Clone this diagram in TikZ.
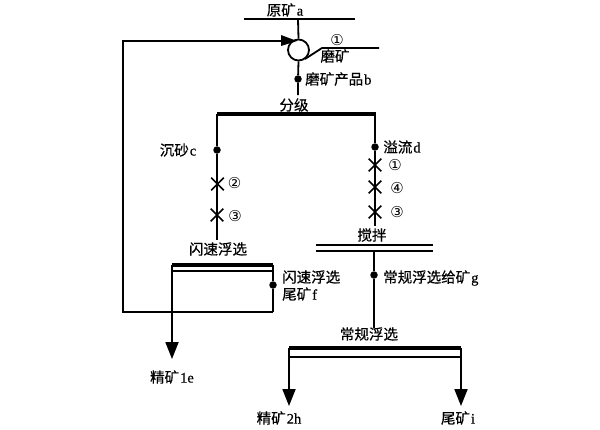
\documentclass[tikz,border=0pt]{standalone}
\usepackage{fontspec}
\setmainfont[FakeBold=0.5]{Liberation Serif}
\newfontfamily\cjk[FakeBold=0.5]{Noto Sans CJK SC}
\newfontfamily\sym{DejaVu Sans}
\newcommand{\zh}[1]{{\cjk\addfontfeature{FakeBold=0.5}#1}\hspace{1pt}}
\usetikzlibrary{arrows.meta,shapes.misc}
\tikzset{
  x=1pt,y=-1pt,
  line/.style={draw=black,line width=1.8pt},
  thinline/.style={draw=black,line width=1.3pt},
  bar/.style={draw=black,line width=4.5pt},
  flow/.style={line,-{Triangle[length=17pt,width=13pt]}},
  txt/.style={inner sep=0pt,font=\fontsize{14.5}{17}\selectfont,text=black},
  num/.style={inner sep=0pt,font=\sym\fontsize{15}{17}\selectfont},
  junction/.style={circle,fill=black,draw=none,minimum size=7.5pt,inner sep=0pt},
  mill/.style={circle,draw=black,line width=1.8pt,fill=white,minimum size=21pt,inner sep=0pt},
  cross/.style={cross out,draw=black,line width=1.6pt,minimum size=11pt,inner sep=0pt}
}
\begin{document}
\begin{tikzpicture}
\useasboundingbox[fill=white] (0,0) rectangle (600,429);
% coordinates
\coordinate (feedL) at (244,19); \coordinate (feedR) at (355,19); \coordinate (feedM) at (298,19);
\coordinate (clsL) at (217,114); \coordinate (clsR) at (376,114); \coordinate (clsM) at (298,114);
\coordinate (ffT) at (172,265); \coordinate (ffTR) at (273,265);
\coordinate (ffM) at (217,263); \coordinate (ffB) at (273,312); \coordinate (ffBL) at (123,312);
\coordinate (ffTL) at (123,41);
\coordinate (ffthinL) at (172,271); \coordinate (ffthinR) at (273,271);
\coordinate (conc1) at (172,359);
\coordinate (mixL1) at (316,245); \coordinate (mixR1) at (433,245);
\coordinate (mixL2) at (316,251); \coordinate (mixR2) at (433,251);
\coordinate (mixIn) at (375,226); \coordinate (mixOut) at (374,251);
\coordinate (cfL) at (289,348); \coordinate (cfR) at (461,348);
\coordinate (cfthinL) at (289,357); \coordinate (cfthinR) at (461,357);
\coordinate (cfIn) at (374,328);
\coordinate (conc2) at (289,406); \coordinate (tail) at (461,406);
\coordinate (millA) at (305,59); \coordinate (millB) at (322,48); \coordinate (millC) at (379,48);
% mill
\node[mill] (mill) at (298.5,50) {};
% dots
\node[junction] (db) at (298,79) {};
\node[junction] (dc) at (217,150) {};
\node[junction] (dd) at (375,147) {};
\node[junction] (df) at (273,285) {};
\node[junction] (dg) at (374,275) {};
% connectors
\draw[thinline] (feedL) -- (feedR);
\draw[line] (feedM) -- (mill.north);
\draw[line] (millA) -- (millB) -- (millC);
\draw[line] (mill.south) -- (db) -- (298,95);
\draw[line] (ffB) -- (ffBL) -- (ffTL) -- (288,41);
\fill (281,35) -- (297,41) -- (281,46) -- cycle;
\draw[bar] (clsL) -- (clsR);
\draw[line] (217,114) -- (dc) -- (217,240);
\draw[line] (375,114) -- (dd) -- (mixIn);
\draw[bar] (ffT) -- (ffTR);
\draw[thinline] (ffthinL) -- (ffthinR);
\draw[line] (ffTR) -- (df) -- (ffB);
\draw[flow] (172,265) -- (conc1);
\draw[thinline] (mixL1) -- (mixR1);
\draw[thinline] (mixL2) -- (mixR2);
\draw[line] (mixOut) -- (dg) -- (cfIn);
\draw[bar] (cfL) -- (cfR);
\draw[thinline] (cfthinL) -- (cfthinR);
\draw[flow] (cfL) -- (conc2);
\draw[flow] (cfR) -- (tail);
% crosses
\node[cross] (x2) at (217.5,184) {};
\node[cross] (x3) at (217,215) {};
\node[cross] (y1) at (375,165) {};
\node[cross] (y4) at (375,187) {};
\node[cross] (y3) at (375,212) {};
% numbers
\node[num] (n1a) at (337,40) {①};
\node[num] (n2) at (234.5,183) {②};
\node[num] (n3) at (235,216) {③};
\node[num] (n1b) at (395,165) {①};
\node[num] (n4) at (397,188) {④};
\node[num] (n3b) at (397,212) {③};
% labels
\node[txt] (la) at (285,10) {\zh{原矿}a};
\node[txt] (lmill) at (335,56) {\zh{磨矿}};
\node[txt,anchor=west] (lb) at (305,79) {\zh{磨矿产品}b};
\node[txt] (lcls) at (294,105) {\zh{分级}};
\node[txt] (lc) at (178,150) {\zh{沉砂}c};
\node[txt] (ld) at (402,147) {\zh{溢流}d};
\node[txt] (lmix) at (372,235) {\zh{搅拌}};
\node[txt] (lff) at (218,249) {\zh{闪速浮选}};
\node[txt,anchor=west] (lf1) at (282,277) {\zh{闪速浮选}};
\node[txt,anchor=west] (lf2) at (282,294) {\zh{尾矿}f};
\node[txt,anchor=west] (lg) at (383,278) {\zh{常规浮选给矿}g};
\node[txt] (lcf) at (369,334) {\zh{常规浮选}};
\node[txt] (le) at (172,377) {\zh{精矿}1e};
\node[txt] (lh) at (279,418) {\zh{精矿}2h};
\node[txt] (li) at (458,418) {\zh{尾矿}i};
\end{tikzpicture}
\end{document}
